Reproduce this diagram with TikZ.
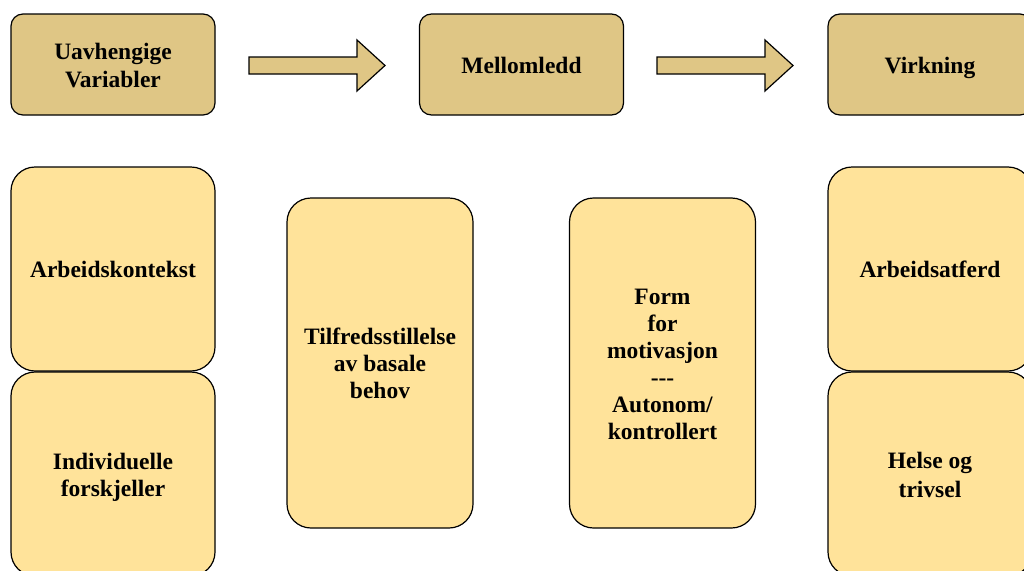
\documentclass[tikz,border=0pt]{standalone}
\usepackage{fontspec}
\setmainfont{Liberation Serif}
\definecolor{headfill}{HTML}{DFC685}
\definecolor{boxfill}{HTML}{FFE39A}
\newcommand\vs{\rule[-4.6pt]{0pt}{27pt}}
\begin{document}
\begin{tikzpicture}[x=1pt,y=-1pt,
  every node/.style={font=\bfseries\fontsize{23.5}{27}\selectfont, align=center, inner sep=0pt},
  headbox/.style={draw=black, line width=1.2pt, fill=headfill, rounded corners=12pt, minimum width=204pt, minimum height=101pt},
  tallbox/.style={draw=black, line width=1.2pt, fill=boxfill, rounded corners=24pt, minimum width=204pt, minimum height=204pt},
  midbox/.style={draw=black, line width=1.2pt, fill=boxfill, rounded corners=24pt, minimum width=186pt, minimum height=330pt},
  blockarrow/.style={draw=black, line width=1.2pt, fill=headfill, line join=miter}]
\useasboundingbox (0,0) rectangle (1024,570);
\clip (0,0) rectangle (1024,570);
% header boxes
\node[headbox] (uav) at (113,64.5) {\vs Uavhengige\\Variabler\vs};
\node[headbox] (mel) at (521.5,64.5) {\vs Mellomledd};
\node[headbox] (vir) at (930,64.5) {\vs Virkning};
% block arrows
\draw[blockarrow] (249,57) -- (357,57) -- (357,40) -- (385,65.5) -- (357,91) -- (357,74) -- (249,74) -- cycle;
\draw[blockarrow] (657,57) -- (765,57) -- (765,40) -- (793,65.5) -- (765,91) -- (765,74) -- (657,74) -- cycle;
% lower boxes
\node[tallbox] (ark) at (113,269) {\vs Arbeidskontekst};
\node[tallbox] (ind) at (113,474) {\vs Individuelle\\forskjeller\vs};
\node[midbox] (til) at (380,363) {\vs Tilfredsstillelse\\av basale\\behov\vs};
\node[midbox] (form) at (662.5,363) {\vs Form\\for\\motivasjon\\{-}{-}{-}\\Autonom/\\kontrollert\vs};
\node[tallbox] (arf) at (930,269) {\vs Arbeidsatferd};
\node[tallbox] (hel) at (930,474) {\vs Helse og\\trivsel\vs};
\end{tikzpicture}
\end{document}
